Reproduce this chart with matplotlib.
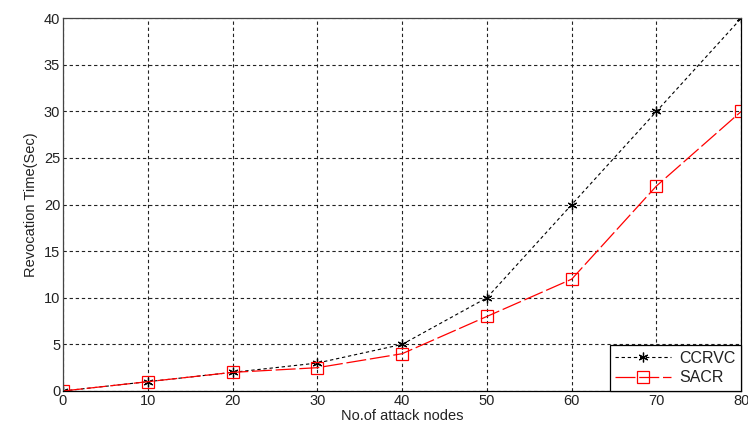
import matplotlib
matplotlib.use("Agg")
import matplotlib.pyplot as plt

plt.rcParams['font.family'] = ['Liberation Sans', 'DejaVu Sans']

# values
nodes = [0, 10, 20, 30, 40, 50, 60, 70, 80]
ccrvc = [0, 1, 2, 3, 5, 10, 20, 30, 40]
sacr = [0, 1, 2, 2.5, 4, 8, 12, 22, 30]

fig = plt.figure(figsize=(7.48, 4.30), dpi=100)
ax = fig.add_axes([0.0842, 0.0907, 0.9068, 0.867])

ax.plot(nodes, ccrvc, color='black', linestyle=(0, (3, 2.5)), linewidth=0.8,
        marker=(6, 2, 0), markersize=7, markeredgewidth=0.9, label='CCRVC')
ax.plot(nodes, sacr, color='red', linestyle=(0, (16, 3)), linewidth=0.9,
        marker='s', markersize=9, markerfacecolor='none', markeredgewidth=0.9,
        label='SACR')

ax.set_xlim(0, 80)
ax.set_ylim(0, 40)
ax.set_xticks(range(0, 81, 10))
ax.set_yticks(range(0, 41, 5))
ax.grid(True, color='#222222', linestyle=(0, (3, 2.5)), linewidth=0.8)
ax.tick_params(direction='in', length=0, labelsize=10.5, pad=2, colors='#222222')
for s in ax.spines.values():
    s.set_linewidth(0.9)
    s.set_color('#444444')
ax.spines['bottom'].set_color('black')
ax.spines['right'].set_color('black')

ax.set_xlabel('No.of attack nodes', fontsize=10.5, labelpad=1, color='#222222')
ax.set_ylabel('Revocation Time(Sec)', fontsize=10.5, labelpad=4, color='#222222')

leg = ax.legend(loc='lower right', fontsize=11.5, fancybox=False, framealpha=1,
                edgecolor='black', borderaxespad=0, handlelength=3.5,
                handletextpad=0.5, borderpad=0.35, labelspacing=0.3)
leg.get_frame().set_linewidth(0.9)
for t in leg.get_texts():
    t.set_color('#222222')

fig.savefig('out.png', dpi=100)
